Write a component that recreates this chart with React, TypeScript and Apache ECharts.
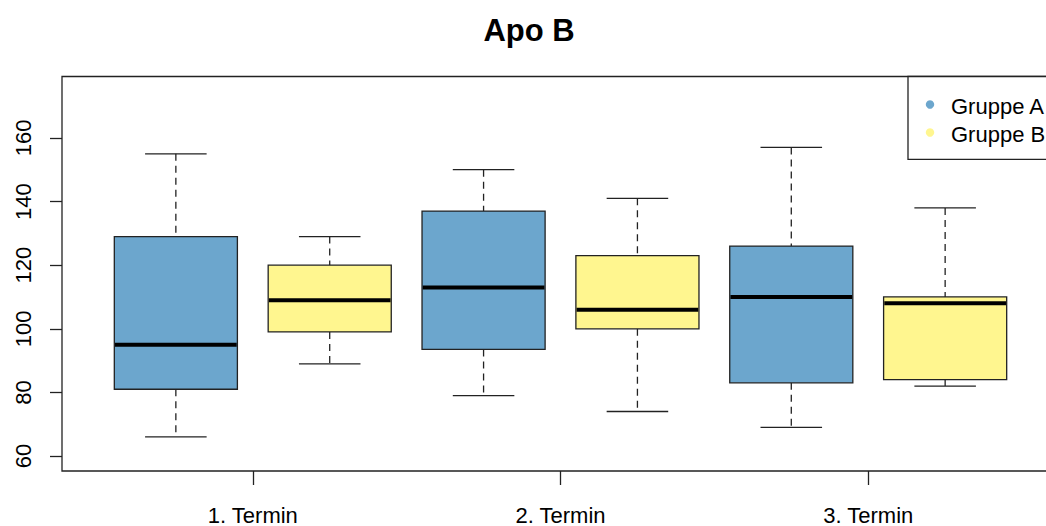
import React, { useEffect, useRef } from "react";
import * as echarts from "echarts";

// Apo B per appointment, two groups
const termine = ["1. Termin", "2. Termin", "3. Termin"];
const gruppen = ["Gruppe A", "Gruppe B"];
const farben = ["#6CA6CD", "#FFF68F"];

// five-number summaries per appointment: [low whisker, Q1, median, Q3, high whisker]
const gruppeA_low = [66, 79, 69];
const gruppeA_q1 = [81, 93.5, 83];
const gruppeA_med = [95, 113, 110];
const gruppeA_q3 = [129, 137, 126];
const gruppeA_high = [155, 150, 157];

const gruppeB_low = [89, 74, 82];
const gruppeB_q1 = [99, 100, 84];
const gruppeB_med = [109, 106, 108];
const gruppeB_q3 = [120, 123, 110];
const gruppeB_high = [129, 141, 138];

const yTicks = [60, 80, 100, 120, 140, 160];

const FONT = "'Liberation Sans', Arial, sans-serif";
const INK = "#222";

function buildRows(
  groupIdx: number,
  low: number[],
  q1: number[],
  med: number[],
  q3: number[],
  high: number[]
) {
  return termine.map((_, i) => [i * 2 + 1 + groupIdx, low[i], q1[i], med[i], q3[i], high[i]]);
}

function renderBox(params: any, api: any) {
  const x = api.value(0);
  const lo = api.coord([x, api.value(1)]);
  const q1 = api.coord([x, api.value(2)]);
  const med = api.coord([x, api.value(3)]);
  const q3 = api.coord([x, api.value(4)]);
  const hi = api.coord([x, api.value(5)]);
  const w = api.size([0.8, 0])[0];
  const cap = w / 2;
  const cx = lo[0];
  const fill = api.visual("color");
  const dash = { stroke: INK, lineWidth: 1.3, lineDash: [7, 5] };
  const solid = { stroke: INK, lineWidth: 1.3 };
  return {
    type: "group",
    children: [
      { type: "line", shape: { x1: cx, y1: hi[1], x2: cx, y2: q3[1] }, style: dash },
      { type: "line", shape: { x1: cx, y1: q1[1], x2: cx, y2: lo[1] }, style: dash },
      { type: "line", shape: { x1: cx - cap / 2, y1: hi[1], x2: cx + cap / 2, y2: hi[1] }, style: solid },
      { type: "line", shape: { x1: cx - cap / 2, y1: lo[1], x2: cx + cap / 2, y2: lo[1] }, style: solid },
      {
        type: "rect",
        shape: { x: cx - w / 2, y: q3[1], width: w, height: q1[1] - q3[1] },
        style: { fill, stroke: INK, lineWidth: 1.3 },
      },
      {
        type: "line",
        shape: { x1: cx - w / 2 + 0.7, y1: med[1], x2: cx + w / 2 - 0.7, y2: med[1] },
        style: { stroke: "#000", lineWidth: 4 },
      },
    ],
  };
}

// legend box in the top-right corner of the plot (R-style: dot + label)
function legendGraphic() {
  const left = 908;
  const top = 76.5;
  const rowY = [104.5, 132.5];
  const items: any[] = [
    {
      type: "rect",
      shape: { x: left, y: top, width: 160, height: 82.8 },
      style: { fill: "#fff", stroke: INK, lineWidth: 1.3 },
      z: 10,
    },
  ];
  gruppen.forEach((name, g) => {
    items.push({
      type: "circle",
      shape: { cx: 930, cy: rowY[g], r: 4.2 },
      style: { fill: farben[g] },
      z: 11,
    });
    items.push({
      type: "text",
      x: 951,
      y: rowY[g] + 1.5,
      style: {
        text: name,
        textAlign: "left",
        textVerticalAlign: "middle",
        font: `22px ${FONT}`,
        fill: "#000",
      },
      z: 11,
    });
  });
  return items;
}

export default function App() {
  const ref = useRef<HTMLDivElement>(null);

  useEffect(() => {
    if (!ref.current) return;
    const chart = echarts.init(ref.current, null, { renderer: "svg" });

    const seriesRows = [
      buildRows(0, gruppeA_low, gruppeA_q1, gruppeA_med, gruppeA_q3, gruppeA_high),
      buildRows(1, gruppeB_low, gruppeB_q1, gruppeB_med, gruppeB_q3, gruppeB_high),
    ];

    chart.setOption({
      animation: false,
      backgroundColor: "#fff",
      textStyle: { fontFamily: FONT },
      graphic: [
        {
          type: "text",
          x: 529,
          y: 30,
          style: {
            text: "Apo B",
            textAlign: "center",
            textVerticalAlign: "middle",
            font: `bold 31px ${FONT}`,
            fill: "#000",
          },
        },
        ...legendGraphic(),
      ],
      grid: {
        show: true,
        left: 62,
        top: 76.5,
        width: 997,
        bottom: 55,
        borderColor: INK,
        borderWidth: 1.3,
        backgroundColor: "transparent",
      },
      xAxis: {
        type: "value",
        min: 0.26,
        max: 6.74,
        axisLine: { show: false },
        splitLine: { show: false },
        axisTick: {
          show: true,
          customValues: termine.map((_, i) => i * 2 + 1.5),
          length: 14,
          lineStyle: { color: INK, width: 1.3 },
        },
        axisLabel: {
          customValues: termine.map((_, i) => i * 2 + 1.5),
          formatter: (v: number) => termine[Math.round((v - 1.5) / 2)] ?? "",
          margin: 33,
          fontSize: 22,
          color: "#000",
          fontFamily: FONT,
        },
      },
      yAxis: {
        type: "value",
        min: 55.3,
        max: 179.3,
        axisLine: { show: false },
        splitLine: { show: false },
        axisTick: {
          show: true,
          customValues: yTicks,
          length: 12,
          lineStyle: { color: INK, width: 1.3 },
        },
        axisLabel: {
          customValues: yTicks,
          rotate: 90,
          margin: 28,
          fontSize: 22,
          color: "#000",
          fontFamily: FONT,
        },
      },
      series: gruppen.map((name, g) => ({
        name,
        type: "custom",
        renderItem: renderBox,
        itemStyle: { color: farben[g] },
        encode: { x: 0, y: [1, 2, 3, 4, 5] },
        data: seriesRows[g],
        clip: false,
      })),
    });

    return () => chart.dispose();
  }, []);

  // the plot frame and legend run past the right edge, so the drawing surface
  // is wider than the visible window and clipped by its wrapper
  return (
    <div
      style={{
        position: "absolute",
        left: 0,
        top: 0,
        width: 1046,
        height: 526,
        overflow: "hidden",
        background: "#fff",
      }}
    >
      <div ref={ref} style={{ width: 1080, height: 526 }} />
    </div>
  );
}
